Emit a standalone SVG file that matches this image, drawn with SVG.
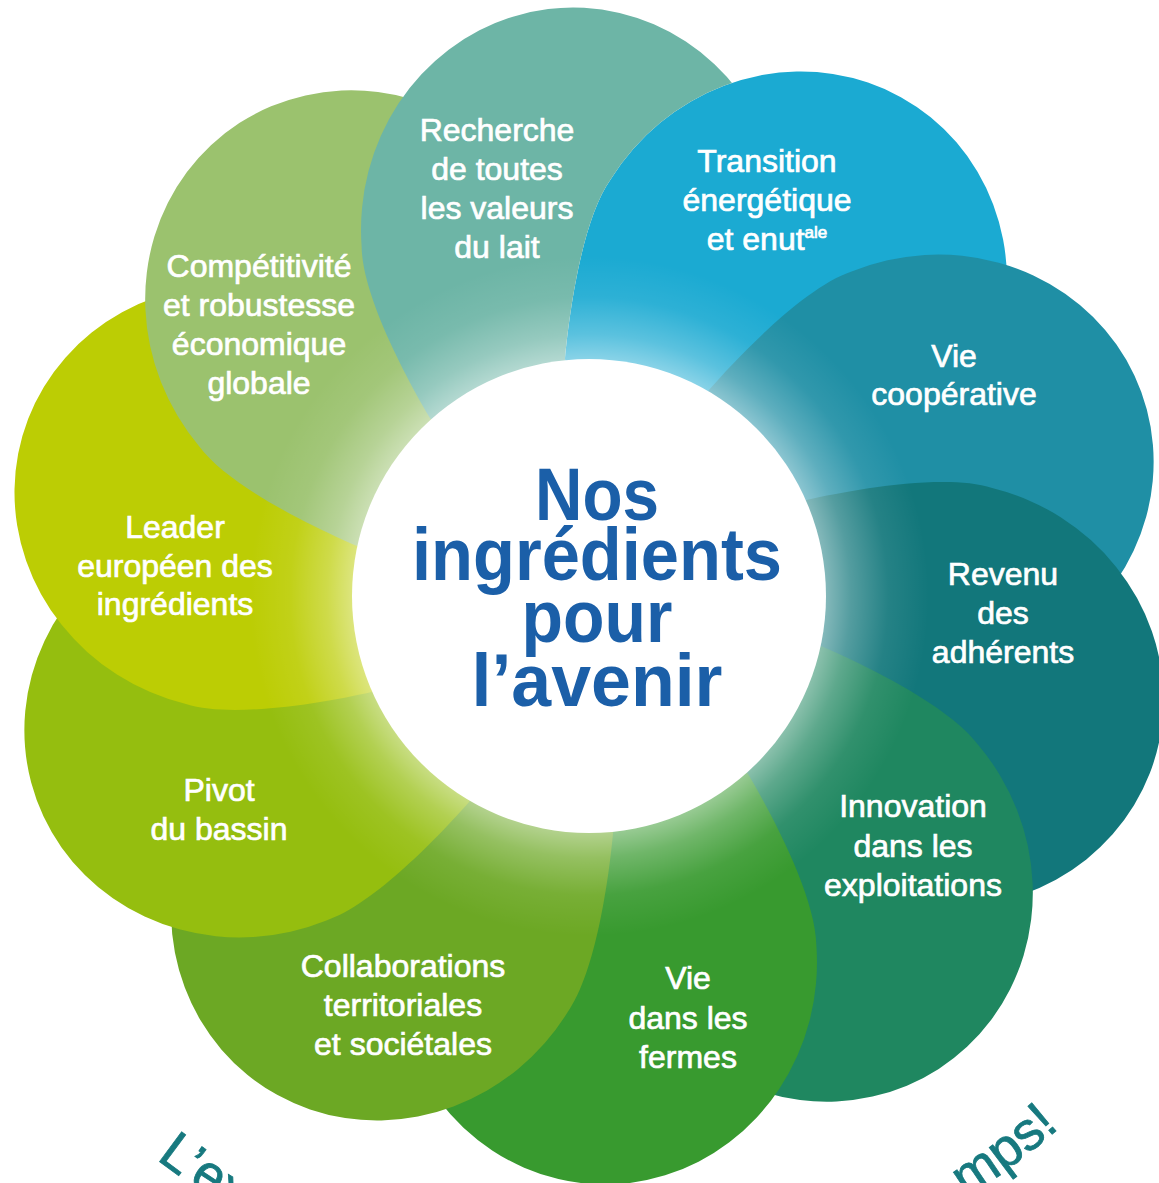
<svg xmlns="http://www.w3.org/2000/svg" width="1159" height="1183" viewBox="0 0 1159 1183">
<defs>
<path id="petal" d="M0 0 L-159 -178 C-181 -215 -227 -300 -227.4 -350 A212 222 0 0 1 170 -473 L150 -380 L90 -260 L40 -200 Z"/>
<mask id="notTransition" maskUnits="userSpaceOnUse" maskContentUnits="userSpaceOnUse" x="0" y="0" width="1159" height="1183">
<rect x="0" y="0" width="1159" height="1183" fill="#fff"/>
<use href="#petal" transform="translate(589 596) rotate(36)" fill="#000"/>
</mask>
<radialGradient id="glow" cx="589" cy="596" r="340" gradientUnits="userSpaceOnUse">
<stop offset="0.69" stop-color="#fff" stop-opacity="0.5"/>
<stop offset="0.77" stop-color="#fff" stop-opacity="0.28"/>
<stop offset="0.88" stop-color="#fff" stop-opacity="0.08"/>
<stop offset="1" stop-color="#fff" stop-opacity="0"/>
</radialGradient>
<path id="arc" d="M-25.9 951 A710 710 0 0 0 1203.9 951"/>
</defs>
<style>
.lbl{font-family:"Liberation Sans",Arial,sans-serif;font-size:32px;fill:#fff;stroke:#fff;stroke-width:0.7px;text-anchor:middle}
.ctr{font-family:"Liberation Sans",Arial,sans-serif;font-size:74px;font-weight:bold;fill:#1B5FA8;text-anchor:middle}
.arc{font-family:"Liberation Sans",Arial,sans-serif;font-size:54px;fill:#17797F;stroke:#17797F;stroke-width:0.8px}
</style>
<rect width="1159" height="1183" fill="#fff"/>
<g id="petal-transition">
<use href="#petal" transform="translate(589 596) rotate(36)" fill="#1BAAD2"/>
<text class="lbl" x="767" y="172">Transition</text>
<text class="lbl" x="767" y="211">énergétique</text>
<text class="lbl" x="767" y="250">et enut<tspan font-size="17" dy="-12">ale</tspan></text>
</g>
<g id="petal-vie-cooperative">
<use href="#petal" transform="translate(589 596) rotate(72)" fill="#1F8FA5"/>
<text class="lbl" x="954" y="367">Vie</text>
<text class="lbl" x="954" y="405">coopérative</text>
</g>
<g id="petal-revenu">
<use href="#petal" transform="translate(589 596) rotate(108)" fill="#12777B"/>
<text class="lbl" x="1003" y="585">Revenu</text>
<text class="lbl" x="1003" y="624">des</text>
<text class="lbl" x="1003" y="663">adhérents</text>
</g>
<g id="petal-innovation">
<use href="#petal" transform="translate(589 596) rotate(144)" fill="#1F8760"/>
<text class="lbl" x="913" y="817">Innovation</text>
<text class="lbl" x="913" y="857">dans les</text>
<text class="lbl" x="913" y="896">exploitations</text>
</g>
<g id="petal-vie-fermes">
<use href="#petal" transform="translate(589 596) rotate(180)" fill="#389A2F"/>
<text class="lbl" x="688" y="989">Vie</text>
<text class="lbl" x="688" y="1029">dans les</text>
<text class="lbl" x="688" y="1068">fermes</text>
</g>
<g id="petal-collaborations">
<use href="#petal" transform="translate(589 596) rotate(216)" fill="#6CA824"/>
<text class="lbl" x="403" y="977">Collaborations</text>
<text class="lbl" x="403" y="1016">territoriales</text>
<text class="lbl" x="403" y="1055">et sociétales</text>
</g>
<g id="petal-pivot">
<use href="#petal" transform="translate(589 596) rotate(252)" fill="#95BE0F"/>
<text class="lbl" x="219" y="801">Pivot</text>
<text class="lbl" x="219" y="840">du bassin</text>
</g>
<g id="petal-leader">
<use href="#petal" transform="translate(589 596) rotate(288)" fill="#BCCD04"/>
<text class="lbl" x="175" y="538">Leader</text>
<text class="lbl" x="175" y="577">européen des</text>
<text class="lbl" x="175" y="615">ingrédients</text>
</g>
<g id="petal-competitivite">
<use href="#petal" transform="translate(589 596) rotate(324)" fill="#9BC26E"/>
<text class="lbl" x="259" y="277">Compétitivité</text>
<text class="lbl" x="259" y="316">et robustesse</text>
<text class="lbl" x="259" y="355">économique</text>
<text class="lbl" x="259" y="394">globale</text>
</g>
<g id="petal-recherche">
<g mask="url(#notTransition)">
<use href="#petal" transform="translate(589 596)" fill="#6DB5A6"/>
</g>
<text class="lbl" x="497" y="141">Recherche</text>
<text class="lbl" x="497" y="180">de toutes</text>
<text class="lbl" x="497" y="219">les valeurs</text>
<text class="lbl" x="497" y="258">du lait</text>
</g>
<g id="connectors"/>
<g id="center">
<circle cx="589" cy="596" r="340" fill="url(#glow)"/>
<circle cx="589" cy="596" r="237" fill="#fff"/>
<text class="ctr" x="597" y="520" textLength="124" lengthAdjust="spacingAndGlyphs">Nos</text>
<text class="ctr" x="597" y="580" textLength="370" lengthAdjust="spacingAndGlyphs">ingrédients</text>
<text class="ctr" x="597" y="642" textLength="151" lengthAdjust="spacingAndGlyphs">pour</text>
<text class="ctr" x="597" y="706" textLength="251" lengthAdjust="spacingAndGlyphs">l’avenir</text>
</g>
<g id="arc-title">
<text class="arc"><textPath href="#arc" startOffset="278">L’ex</textPath></text>
<text class="arc" text-anchor="end"><textPath href="#arc" startOffset="1258">mps!</textPath></text>
</g>
</svg>
